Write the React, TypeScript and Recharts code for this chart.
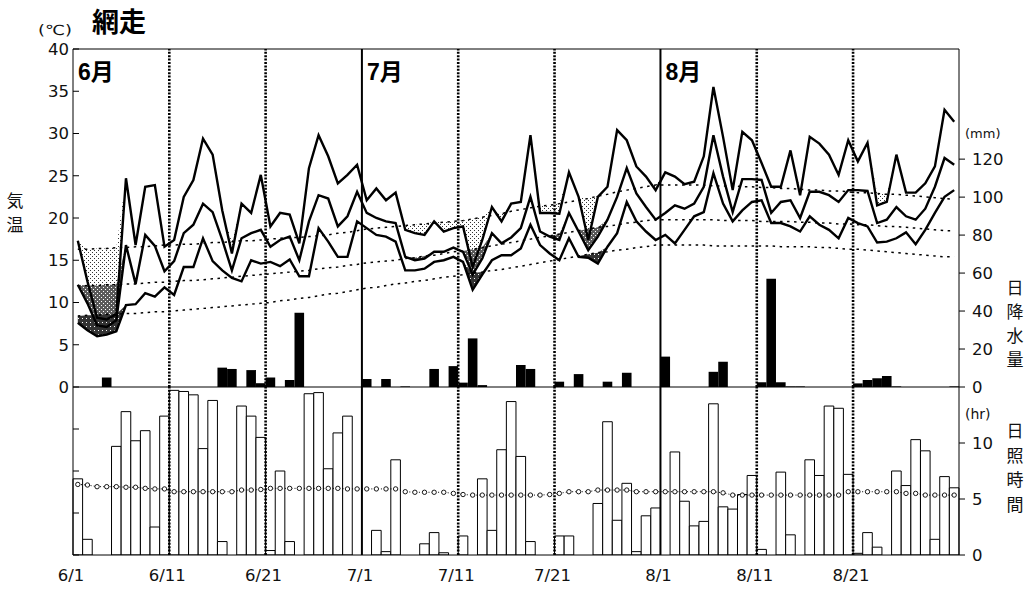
import React from 'react';
import { ComposedChart, Line, Bar, Area, XAxis, YAxis, ReferenceLine } from 'recharts';

// ---- daily data, June 1 .. August 31 (92 days) ----
const tMaxJun = [17.3, 12.5, 8.2, 8.0, 8.6, 24.7, 16.8, 23.7, 23.9, 16.6, 17.4, 22.5, 24.5, 29.4, 27.5, 20.9, 15.8, 21.7, 20.6, 25.1, 19.0, 20.6, 20.4, 17.0, 25.9, 29.8, 27.3, 24.1, 25.1, 26.3];
const tMaxJul = [22.1, 23.5, 22.1, 23.0, 18.6, 18.2, 18.0, 19.6, 18.4, 18.8, 19.0, 14.2, 17.4, 21.3, 19.6, 21.7, 21.9, 29.8, 20.6, 20.6, 20.5, 25.4, 22.5, 17.4, 22.5, 23.7, 30.4, 29.2, 26.1, 24.9, 23.3];
const tMaxAug = [25.4, 24.9, 24.0, 24.3, 27.3, 35.5, 29.6, 23.3, 30.2, 29.2, 26.5, 23.7, 23.7, 28.0, 22.7, 29.6, 28.8, 27.5, 25.1, 29.2, 26.7, 28.9, 21.5, 21.9, 27.5, 23.0, 23.0, 24.1, 26.1, 32.8, 31.4];

const tMeanJun = [12.1, 9.9, 7.3, 7.1, 7.9, 16.8, 12.2, 18.0, 16.7, 13.7, 14.9, 18.2, 19.2, 21.7, 20.7, 17.4, 13.8, 17.6, 18.2, 18.6, 16.6, 17.4, 17.8, 15.0, 19.6, 22.7, 22.3, 19.0, 20.2, 23.1];
const tMeanJul = [20.6, 20.0, 19.6, 19.4, 15.4, 15.0, 15.2, 16.0, 16.0, 16.5, 16.0, 13.3, 15.2, 18.2, 17.0, 17.7, 18.8, 22.5, 18.4, 17.8, 17.4, 20.6, 18.4, 16.2, 17.8, 19.8, 22.5, 25.9, 22.9, 21.3, 19.8];
const tMeanAug = [20.6, 21.5, 21.1, 21.7, 23.7, 29.8, 24.9, 20.7, 24.6, 24.6, 24.5, 20.6, 21.9, 22.1, 20.0, 23.1, 23.1, 22.7, 21.9, 23.3, 23.3, 23.2, 19.4, 19.8, 21.3, 20.2, 19.8, 21.1, 23.7, 27.1, 26.3];

const tMinJun = [7.6, 6.7, 6.0, 6.2, 6.6, 9.7, 9.8, 11.1, 10.7, 11.8, 10.9, 14.2, 14.2, 17.6, 14.9, 13.8, 12.9, 12.5, 15.0, 14.6, 14.8, 14.3, 15.1, 13.1, 13.1, 18.8, 17.2, 15.4, 15.4, 19.6];
const tMinJul = [18.8, 18.0, 17.8, 17.2, 13.8, 13.8, 14.0, 14.8, 15.0, 15.4, 14.8, 11.5, 13.3, 15.0, 15.6, 15.6, 16.4, 19.2, 16.8, 15.8, 15.0, 17.6, 15.4, 15.3, 14.6, 16.6, 18.2, 21.9, 19.6, 18.4, 17.4];
const tMinAug = [18.0, 17.0, 18.6, 20.2, 20.7, 25.3, 21.7, 19.6, 20.9, 21.9, 22.1, 19.4, 19.4, 19.0, 18.4, 20.2, 19.2, 18.6, 17.6, 20.0, 19.4, 19.0, 17.1, 17.2, 17.6, 18.3, 16.9, 18.6, 20.6, 22.5, 23.3];

// normals
const nMaxJun = [16.3, 16.3, 16.4, 16.4, 16.5, 16.5, 16.6, 16.6, 16.7, 16.8, 16.8, 16.9, 16.9, 17.0, 17.1, 17.1, 17.2, 17.3, 17.3, 17.4, 17.5, 17.6, 17.7, 17.7, 17.8, 17.9, 18.0, 18.2, 18.3, 18.5];
const nMaxJul = [18.7, 18.8, 18.9, 19.0, 19.1, 19.2, 19.3, 19.4, 19.5, 19.6, 19.7, 19.9, 20.1, 20.3, 20.5, 20.8, 21.0, 21.2, 21.4, 21.5, 21.7, 21.9, 22.1, 22.3, 22.6, 22.8, 23.1, 23.3, 23.5, 23.7, 23.9];
const nMaxAug = [23.9, 23.9, 23.9, 23.9, 23.9, 23.8, 23.8, 23.8, 23.7, 23.7, 23.6, 23.6, 23.5, 23.5, 23.4, 23.3, 23.3, 23.2, 23.2, 23.1, 23.0, 23.0, 22.9, 22.8, 22.8, 22.7, 22.6, 22.5, 22.4, 22.3, 22.2];

const nMeanJun = [11.9, 12.0, 12.0, 12.1, 12.1, 12.2, 12.2, 12.3, 12.4, 12.4, 12.5, 12.6, 12.6, 12.7, 12.8, 12.9, 13.0, 13.1, 13.2, 13.3, 13.4, 13.5, 13.6, 13.7, 13.8, 14.0, 14.1, 14.2, 14.4, 14.5];
const nMeanJul = [14.7, 14.8, 14.9, 15.0, 15.2, 15.3, 15.5, 15.6, 15.8, 16.0, 16.1, 16.3, 16.5, 16.7, 16.9, 17.1, 17.3, 17.5, 17.7, 17.9, 18.1, 18.3, 18.5, 18.7, 18.9, 19.0, 19.2, 19.4, 19.5, 19.7, 19.8];
const nMeanAug = [19.8, 19.8, 19.8, 19.8, 19.8, 19.8, 19.7, 19.7, 19.7, 19.7, 19.6, 19.6, 19.6, 19.6, 19.5, 19.5, 19.4, 19.4, 19.3, 19.3, 19.2, 19.2, 19.1, 19.0, 19.0, 18.9, 18.8, 18.7, 18.6, 18.5, 18.5];

const nMinJun = [8.4, 8.5, 8.5, 8.6, 8.6, 8.7, 8.7, 8.8, 8.9, 8.9, 9.0, 9.1, 9.2, 9.3, 9.4, 9.5, 9.6, 9.7, 9.8, 9.9, 10.0, 10.2, 10.3, 10.5, 10.6, 10.8, 11.0, 11.1, 11.3, 11.5];
const nMinJul = [11.7, 11.8, 12.0, 12.2, 12.3, 12.5, 12.6, 12.8, 13.0, 13.1, 13.3, 13.5, 13.6, 13.8, 13.9, 14.1, 14.3, 14.5, 14.7, 14.9, 15.1, 15.3, 15.5, 15.7, 15.9, 16.0, 16.2, 16.3, 16.5, 16.6, 16.8];
const nMinAug = [16.8, 16.8, 16.8, 16.8, 16.8, 16.7, 16.7, 16.7, 16.7, 16.7, 16.7, 16.7, 16.6, 16.6, 16.6, 16.6, 16.5, 16.5, 16.4, 16.3, 16.3, 16.2, 16.1, 16.0, 15.9, 15.8, 15.7, 15.6, 15.5, 15.4, 15.4];

// daily precipitation (mm)
const precipJun = [0, 0, 0, 5.0, 0, 0, 0, 0, 0, 0, 0, 0, 0, 0, 0, 10.2, 9.5, 0, 8.9, 2.0, 5.0, 0, 3.7, 39.1, 0, 0, 0, 0, 0, 0];
const precipJul = [4.2, 0, 4.2, 0, 0.3, 0, 0, 9.5, 0, 11.0, 2.3, 25.6, 1.0, 0, 0, 0, 11.6, 9.5, 0, 0, 2.8, 0, 6.8, 0, 0, 2.8, 0, 7.5, 0, 0, 0];
const precipAug = [16.0, 0, 0, 0, 0, 8.0, 13.3, 0, 0, 0, 2.5, 57.0, 2.5, 0.3, 0.3, 0, 0, 0, 0, 0, 1.9, 3.7, 4.6, 5.8, 0.3, 0, 0, 0, 0, 0, 0.3];

// daily sunshine (hr)
const sunJun = [6.8, 1.4, 0, 0, 9.7, 12.8, 10.2, 11.1, 2.5, 12.4, 14.7, 14.6, 14.3, 9.5, 13.8, 1.2, 0, 13.3, 12.4, 10.5, 0.4, 7.5, 1.2, 0, 14.4, 14.5, 7.7, 10.9, 12.4, 0];
const sunJul = [0, 2.2, 0.3, 8.5, 0, 0, 1.0, 2.0, 0.2, 0, 1.7, 0, 6.8, 2.2, 9.4, 13.7, 8.8, 1.2, 0, 0, 1.7, 1.7, 0, 0, 4.6, 11.9, 3.1, 6.4, 0.3, 3.5, 4.2];
const sunAug = [0, 9.2, 4.8, 2.6, 3.0, 13.5, 4.3, 4.1, 5.4, 7.1, 0.5, 0, 7.4, 1.8, 0, 8.5, 7.1, 13.3, 13.1, 7.2, 0.15, 2.0, 0.7, 0, 7.5, 6.2, 10.3, 9.3, 1.4, 7.0, 6.0];

const nSunJun = [6.3, 6.25, 6.1, 6.1, 6.1, 6.05, 6.05, 5.95, 5.9, 5.9, 5.65, 5.65, 5.65, 5.65, 5.65, 5.65, 5.65, 5.8, 5.8, 5.85, 5.95, 5.95, 5.95, 5.95, 5.95, 5.95, 5.95, 5.95, 5.9, 5.9];
const nSunJul = [5.9, 5.9, 5.9, 5.9, 5.65, 5.6, 5.6, 5.6, 5.6, 5.5, 5.4, 5.35, 5.35, 5.35, 5.35, 5.35, 5.35, 5.35, 5.35, 5.4, 5.5, 5.65, 5.65, 5.65, 5.8, 5.8, 5.8, 5.8, 5.65, 5.65, 5.65];
const nSunAug = [5.65, 5.65, 5.65, 5.65, 5.65, 5.65, 5.55, 5.35, 5.35, 5.35, 5.35, 5.35, 5.35, 5.35, 5.35, 5.35, 5.35, 5.35, 5.35, 5.65, 5.65, 5.65, 5.65, 5.65, 5.65, 5.5, 5.5, 5.35, 5.35, 5.35, 5.35];

// axis ticks / labels
const tempTicks = [0, 5, 10, 15, 20, 25, 30, 35, 40];
const precipTicks = [0, 20, 40, 60, 80, 100, 120];
const sunTicks = [0, 5, 10];
const sunInnerTicks = [0, 3.75, 7.5, 11.25];
const tickDays = [0, 10, 20, 30, 40, 50, 61, 71, 81];
const tickLabels = ['6/1', '6/11', '6/21', '7/1', '7/11', '7/21', '8/1', '8/11', '8/21'];
const monthStarts = [0, 30, 61];
const monthLabels = ['6月', '7月', '8月'];
const monthLines = [30, 61];
const dekadLines = [10, 20, 40, 50, 71, 81];

// ---- combined ----
const tMax = [...tMaxJun, ...tMaxJul, ...tMaxAug];
const tMean = [...tMeanJun, ...tMeanJul, ...tMeanAug];
const tMin = [...tMinJun, ...tMinJul, ...tMinAug];
const nMax = [...nMaxJun, ...nMaxJul, ...nMaxAug];
const nMean = [...nMeanJun, ...nMeanJul, ...nMeanAug];
const nMin = [...nMinJun, ...nMinJul, ...nMinAug];
const precip = [...precipJun, ...precipJul, ...precipAug];
const sunshine = [...sunJun, ...sunJul, ...sunAug];
const nSun = [...nSunJun, ...nSunJul, ...nSunAug];

const rows = tMax.map((v, i) => ({
  d: `d${i + 1}`,
  i: i + 0.5,
  tmax: v,
  tmean: tMean[i],
  tmin: tMin[i],
  nmax: nMax[i],
  nmean: nMean[i],
  nmin: nMin[i],
  shMax: [v, Math.max(v, nMax[i])],
  shMean: [tMean[i], Math.max(tMean[i], nMean[i])],
  shMin: [tMin[i], Math.max(tMin[i], nMin[i])],
  pr: precip[i],
  sun: sunshine[i],
  nsun: nSun[i],
}));

const FONT_NUM = '"DejaVu Sans", "Noto Sans CJK JP", sans-serif';
const FONT_JP = '"Noto Sans CJK JP", sans-serif';
const FONT_MONTH = '"Liberation Sans", "Noto Sans CJK JP", sans-serif';
const NUM_SIZE = 16.5;

const PLOT_L = 73;
const PLOT_W = 886;
const NDAYS = 92;

function LeftTempTick(props: any) {
  const { x, y, payload } = props;
  return (
    <g>
      <line x1={x} x2={x + 6} y1={y} y2={y} stroke="#000" strokeWidth={1} />
      <text x={x - 4} y={y} dy="0.36em" textAnchor="end" fontSize={NUM_SIZE} fontFamily={FONT_NUM} fill="#111">
        {payload.value}
      </text>
    </g>
  );
}

function RightTick(props: any) {
  const { x, y, payload } = props;
  return (
    <g>
      <line x1={x} x2={x + 6} y1={y} y2={y} stroke="#000" strokeWidth={1} />
      <text x={x + 13} y={y} dy="0.36em" textAnchor="start" fontSize={NUM_SIZE} fontFamily={FONT_NUM} fill="#111">
        {payload.value}
      </text>
    </g>
  );
}

function LeftInnerTick(props: any) {
  const { x, y } = props;
  return <line x1={x} x2={x + 6} y1={y} y2={y} stroke="#000" strokeWidth={1} />;
}

function XTick(props: any) {
  const { x, y, payload } = props;
  const idx = tickDays.indexOf(payload.value);
  return (
    <text x={x - 2} y={y + 26} textAnchor="middle" fontSize={NUM_SIZE} fontFamily={FONT_NUM} fill="#111">
      {idx >= 0 ? tickLabels[idx] : ''}
    </text>
  );
}

function vLines(yId: string) {
  return [
    ...monthLines.map((m) => (
      <ReferenceLine key={`m${m}`} xAxisId="n" yAxisId={yId} x={m} stroke="#000" strokeWidth={2} />
    )),
    ...dekadLines.map((m) => (
      <ReferenceLine key={`k${m}`} xAxisId="n" yAxisId={yId} x={m} stroke="#000" strokeWidth={2.6} strokeDasharray="2 1.4" />
    )),
  ];
}

export default function App() {
  return (
    <div style={{ position: 'absolute', left: 0, top: 0, width: 1030, height: 591, background: '#fff', overflow: 'hidden' }}>
      <div style={{ position: 'absolute', left: 0, top: 0 }}>
        <ComposedChart width={1030} height={400} data={rows} margin={{ top: 49, right: 11, bottom: 13, left: 13 }}>
          <defs>
            <pattern id="pMax" patternUnits="userSpaceOnUse" width="4" height="4">
              <rect width="4" height="4" fill="#fff" />
              <rect x="0" y="0" width="1" height="1" fill="#333" />
              <rect x="2" y="2" width="1" height="1" fill="#333" />
            </pattern>
            <pattern id="pMean" patternUnits="userSpaceOnUse" width="4" height="4">
              <rect width="4" height="4" fill="#5a5a5a" />
              <rect x="1" y="1" width="1" height="1" fill="#fff" />
              <rect x="3" y="3" width="1" height="1" fill="#fff" />
            </pattern>
            <pattern id="pMin" patternUnits="userSpaceOnUse" width="4" height="4">
              <rect width="4" height="4" fill="#333" />
              <rect x="2" y="2" width="1" height="1" fill="#fff" />
            </pattern>
          </defs>
          <XAxis xAxisId="n" dataKey="i" type="number" domain={[0, NDAYS]} ticks={tickDays} hide height={0} allowDataOverflow />
          <XAxis xAxisId="c" dataKey="d" type="category" hide height={0} />
          <YAxis
            yAxisId="t"
            domain={[0, 40]}
            ticks={tempTicks}
            interval={0}
            width={60}
            axisLine={{ stroke: '#000' }}
            tickLine={false}
            tickSize={0}
            tickMargin={0}
            tick={LeftTempTick}
            allowDataOverflow
          />
          <YAxis
            yAxisId="p"
            orientation="right"
            domain={[0, 178]}
            ticks={precipTicks}
            interval={0}
            width={60}
            axisLine={{ stroke: '#000' }}
            tickLine={false}
            tickSize={0}
            tickMargin={0}
            tick={RightTick}
            allowDataOverflow
          />
          <Area xAxisId="c" yAxisId="t" dataKey="shMax" type="linear" fill="url(#pMax)" fillOpacity={1} stroke="none" dot={false} activeDot={false} isAnimationActive={false} />
          <Area xAxisId="c" yAxisId="t" dataKey="shMean" type="linear" fill="url(#pMean)" fillOpacity={1} stroke="none" dot={false} activeDot={false} isAnimationActive={false} />
          <Area xAxisId="c" yAxisId="t" dataKey="shMin" type="linear" fill="url(#pMin)" fillOpacity={1} stroke="none" dot={false} activeDot={false} isAnimationActive={false} />
          <Bar xAxisId="c" yAxisId="p" dataKey="pr" fill="#000" barSize={9.6} isAnimationActive={false} />
          <Line xAxisId="c" yAxisId="t" dataKey="nmax" type="linear" stroke="#000" strokeWidth={1.5} strokeDasharray="2.5 4.5" dot={false} activeDot={false} isAnimationActive={false} />
          <Line xAxisId="c" yAxisId="t" dataKey="nmean" type="linear" stroke="#000" strokeWidth={1.5} strokeDasharray="2.5 4.5" dot={false} activeDot={false} isAnimationActive={false} />
          <Line xAxisId="c" yAxisId="t" dataKey="nmin" type="linear" stroke="#000" strokeWidth={1.5} strokeDasharray="2.5 4.5" dot={false} activeDot={false} isAnimationActive={false} />
          <Line xAxisId="c" yAxisId="t" dataKey="tmax" type="linear" stroke="#000" strokeWidth={2.4} dot={false} activeDot={false} isAnimationActive={false} />
          <Line xAxisId="c" yAxisId="t" dataKey="tmean" type="linear" stroke="#000" strokeWidth={2.4} dot={false} activeDot={false} isAnimationActive={false} />
          <Line xAxisId="c" yAxisId="t" dataKey="tmin" type="linear" stroke="#000" strokeWidth={2.4} dot={false} activeDot={false} isAnimationActive={false} />
          {vLines('t')}
          <ReferenceLine xAxisId="n" yAxisId="t" y={40} stroke="#000" strokeWidth={1} />
          <ReferenceLine xAxisId="n" yAxisId="t" y={0} stroke="#000" strokeWidth={1} />
        </ComposedChart>
      </div>

      <div style={{ position: 'absolute', left: 0, top: 387 }}>
        <ComposedChart width={1030} height={204} data={rows} margin={{ top: 0, right: 11, bottom: 0, left: 13 }}>
          <XAxis
            xAxisId="n"
            dataKey="i"
            type="number"
            domain={[0, NDAYS]}
            ticks={tickDays}
            interval={0}
            height={36}
            axisLine={{ stroke: '#000' }}
            tickLine={false}
            tickSize={0}
            tickMargin={0}
            tick={XTick}
            allowDataOverflow
          />
          <XAxis xAxisId="c" dataKey="d" type="category" hide height={0} />
          <YAxis
            yAxisId="sl"
            domain={[0, 15]}
            ticks={sunInnerTicks}
            interval={0}
            width={60}
            axisLine={{ stroke: '#000' }}
            tickLine={false}
            tickSize={0}
            tickMargin={0}
            tick={LeftInnerTick}
            allowDataOverflow
          />
          <YAxis
            yAxisId="s"
            orientation="right"
            domain={[0, 15]}
            ticks={sunTicks}
            interval={0}
            width={60}
            axisLine={{ stroke: '#000' }}
            tickLine={false}
            tickSize={0}
            tickMargin={0}
            tick={RightTick}
            allowDataOverflow
          />
          <Bar xAxisId="c" yAxisId="s" dataKey="sun" fill="#fff" stroke="#000" strokeWidth={1} barSize={9.6} isAnimationActive={false} />
          <Line
            xAxisId="c"
            yAxisId="sl"
            dataKey="nsun"
            type="linear"
            stroke="#000"
            strokeWidth={1}
            strokeDasharray="1 2.2"
            dot={{ r: 2.2, fill: '#fff', stroke: '#000', strokeWidth: 0.9, strokeDasharray: 'none' }}
            activeDot={false}
            isAnimationActive={false}
          />
          {vLines('sl')}
        </ComposedChart>
      </div>

      <svg width={1030} height={591} style={{ position: 'absolute', left: 0, top: 0, pointerEvents: 'none' }}>
        <text x={92} y={32} fontSize={27} fontWeight={700} fontFamily={FONT_JP} fill="#000">網走</text>
        <text x={38} y={35} fontSize={14} fontFamily={FONT_NUM} fill="#111" textLength={34} lengthAdjust="spacingAndGlyphs">(℃)</text>
        <text x={15} y={207} textAnchor="middle" fontSize={17} fontFamily={FONT_JP} fill="#111">気</text>
        <text x={15} y={231} textAnchor="middle" fontSize={17} fontFamily={FONT_JP} fill="#111">温</text>
        {monthStarts.map((m, k) => (
          <text key={m} x={PLOT_L + (m * PLOT_W) / NDAYS + 5} y={80} fontSize={23} fontWeight={700} fontFamily={FONT_MONTH} fill="#000">
            {monthLabels[k]}
          </text>
        ))}
        <text x={965} y={138} fontSize={13} fontFamily={FONT_NUM} fill="#111">(mm)</text>
        {['日', '降', '水', '量'].map((c, k) => (
          <text key={c} x={1015} y={294 + k * 24} textAnchor="middle" fontSize={17} fontFamily={FONT_JP} fill="#111">{c}</text>
        ))}
        <text x={965} y={419} fontSize={14} fontFamily={FONT_NUM} fill="#111">(hr)</text>
        {['日', '照', '時', '間'].map((c, k) => (
          <text key={c} x={1015} y={437 + k * 24.5} textAnchor="middle" fontSize={17} fontFamily={FONT_JP} fill="#111">{c}</text>
        ))}
      </svg>
    </div>
  );
}
